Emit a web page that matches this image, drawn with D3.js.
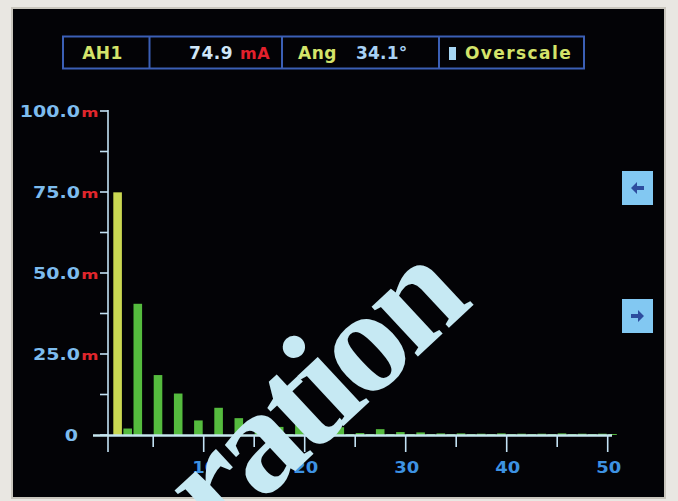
<!DOCTYPE html>
<html>
<head>
<meta charset="utf-8">
<script src="https://cdn.jsdelivr.net/npm/d3@7"></script>
<style>
  html, body { margin: 0; padding: 0; background: #e8e6e1; }
  svg { display: block; }
</style>
</head>
<body>
<svg id="chart" width="678" height="501"></svg>
<script>
// Harmonic spectrum of channel AH1 (values in mA)
const harmonics = d3.range(1, 51);
const amplitudes = [
  74.9, 2.0, 40.5, 0.0, 18.5, 0.0, 12.8, 0.0, 4.5, 0.0,
  8.4, 0.0, 5.2, 0.0, 5.2, 0.3, 2.5, 0.3, 4.0, 0.3,
  2.5, 0.3, 2.4, 0.3, 0.6, 0.3, 1.8, 0.3, 0.9, 0.3,
  0.8, 0.3, 0.5, 0.3, 0.5, 0.3, 0.4, 0.3, 0.5, 0.3,
  0.4, 0.3, 0.4, 0.3, 0.5, 0.3, 0.4, 0.3, 0.4, 0.3
];
const yTicks = [0, 25, 50, 75, 100];
const yTickLabels = ["0", "25.0", "50.0", "75.0", "100.0"];
const yMinorTicks = [12.5, 37.5, 62.5, 87.5];
const xMajorTicks = [10, 20, 30, 40, 50];
const xMinorTicks = [5, 15, 25, 35, 45];
const headerCells = ["AH1", "74.9", "mA", "Ang", "34.1°", "Overscale"];

const svg = d3.select("#chart");

// instrument bezel and screen
svg.append("rect").attr("x", 0).attr("y", 0).attr("width", 678).attr("height", 501).attr("fill", "#e9e7e2");
svg.append("rect").attr("x", 11).attr("y", 7).attr("width", 655).attr("height", 492).attr("fill", "#c9c6bd");
svg.append("rect").attr("x", 13).attr("y", 9).attr("width", 651).attr("height", 488).attr("fill", "#030306");

const x = d3.scaleLinear().domain([0, 50]).range([102.7, 607.7]);
const y = d3.scaleLinear().domain([0, 100]).range([435, 111]);

const bold = "'DejaVu Sans', sans-serif";

// ---- header strip ----
const hdr = svg.append("g");
const boxL = 63, boxR = 584, boxT = 36.5, boxB = 68.5;
hdr.append("rect").attr("x", boxL).attr("y", boxT).attr("width", boxR - boxL).attr("height", boxB - boxT)
  .attr("fill", "none").attr("stroke", "#3b5fb5").attr("stroke-width", 2);
[149.5, 282, 439].forEach(d => {
  hdr.append("line").attr("x1", d).attr("x2", d).attr("y1", boxT).attr("y2", boxB)
    .attr("stroke", "#3b5fb5").attr("stroke-width", 2);
});
const hText = (t, xPos, color, anchor, size) => hdr.append("text")
  .attr("x", xPos).attr("y", 58.5).attr("fill", color)
  .attr("text-anchor", anchor || "start")
  .attr("font-family", bold).attr("font-weight", "bold")
  .attr("font-size", size || 17).attr("letter-spacing", 0.5).text(t);
hText(headerCells[0], 102.5, "#d4e46a", "middle");
hText(headerCells[1], 233, "#cfe6f8", "end");
hText(headerCells[2], 240, "#e3202c", "start", 16);
hText(headerCells[3], 298, "#d4e46a");
hText(headerCells[4], 356, "#a9d2f5").attr("letter-spacing", 0.2);
hdr.append("rect").attr("x", 449).attr("y", 47).attr("width", 7).attr("height", 13).attr("fill", "#a6d6f4");
hText(headerCells[5], 465, "#d4e46a", "start", 17).attr("letter-spacing", 1.4);

// ---- y axis ----
const axisColor = "#c3e2f4";
svg.append("line").attr("x1", 108).attr("x2", 108).attr("y1", y(100) - 1).attr("y2", 452)
  .attr("stroke", axisColor).attr("stroke-width", 1.6);
svg.selectAll("line.ytick").data(yTicks.concat(yMinorTicks)).join("line")
  .attr("class", "ytick")
  .attr("x1", 100).attr("x2", 108).attr("y1", d => y(d)).attr("y2", d => y(d))
  .attr("stroke", axisColor).attr("stroke-width", 1.6);

const yLab = svg.selectAll("g.ylab").data(yTicks).join("g")
  .attr("class", "ylab")
  .attr("transform", d => `translate(80,${y(d) + 5.5}) scale(1.27,1)`);
yLab.append("text")
  .attr("text-anchor", "end")
  .attr("font-family", bold).attr("font-weight", "bold").attr("font-size", 15)
  .attr("fill", "#7dbcee")
  .attr("x", (d, i) => i === 0 ? -1.5 : 0)
  .text((d, i) => yTickLabels[i]);
yLab.filter(d => d !== 0).append("text")
  .attr("x", 1)
  .attr("font-family", bold).attr("font-weight", "bold").attr("font-size", 13)
  .attr("fill", "#e0262c")
  .text("m");

// ---- bars ----
const barW = 8.6;
svg.selectAll("rect.bar").data(harmonics).join("rect")
  .attr("class", "bar")
  .attr("x", d => x(d) + 0.5)
  .attr("width", barW)
  .attr("y", (d, i) => y(amplitudes[i]))
  .attr("height", (d, i) => y(0) - y(amplitudes[i]))
  .attr("fill", d => d === 1 ? "#cad852" : "#55bb3e");

// ---- x axis ----
svg.append("line").attr("x1", 93).attr("x2", 612).attr("y1", y(0) + 0.5).attr("y2", y(0) + 0.5)
  .attr("stroke", "#c6e6ee").attr("stroke-width", 2.6);
svg.selectAll("line.xmaj").data(xMajorTicks).join("line")
  .attr("class", "xmaj")
  .attr("x1", d => x(d)).attr("x2", d => x(d)).attr("y1", y(0)).attr("y2", 452)
  .attr("stroke", axisColor).attr("stroke-width", 1.6);
svg.selectAll("line.xmin").data(xMinorTicks).join("line")
  .attr("class", "xmin")
  .attr("x1", d => x(d)).attr("x2", d => x(d)).attr("y1", y(0)).attr("y2", 447)
  .attr("stroke", axisColor).attr("stroke-width", 1.6);
svg.selectAll("g.xlab").data(xMajorTicks).join("g")
  .attr("class", "xlab")
  .attr("transform", d => `translate(${x(d) + 1},473) scale(1.2,1)`)
  .append("text")
  .attr("text-anchor", "middle")
  .attr("font-family", bold).attr("font-weight", "bold").attr("font-size", 15)
  .attr("fill", "#3d92e2")
  .text(d => d);

// ---- scroll buttons ----
const btns = [{ y0: 171, dir: -1 }, { y0: 299, dir: 1 }];
const bg = svg.selectAll("g.btn").data(btns).join("g").attr("class", "btn")
  .attr("transform", d => `translate(622,${d.y0})`);
bg.append("rect").attr("width", 31).attr("height", 34).attr("fill", "#82c8f2");
bg.append("path")
  .attr("d", d => d.dir < 0
    ? "M9,17 L15,11 L15,15 L22,15 L22,19 L15,19 L15,23 Z"
    : "M22,17 L16,11 L16,15 L9,15 L9,19 L16,19 L16,23 Z")
  .attr("fill", "#2d4c9e");

// ---- overlay lettering ----
svg.append("text")
  .attr("transform", "translate(470,308) rotate(-43)")
  .attr("text-anchor", "end")
  .attr("font-family", "'Liberation Serif', serif").attr("font-weight", "bold")
  .attr("font-size", 148)
  .attr("letter-spacing", -7)
  .attr("fill", "#c6e9f3")
  .text("ration");
</script>
</body>
</html>
